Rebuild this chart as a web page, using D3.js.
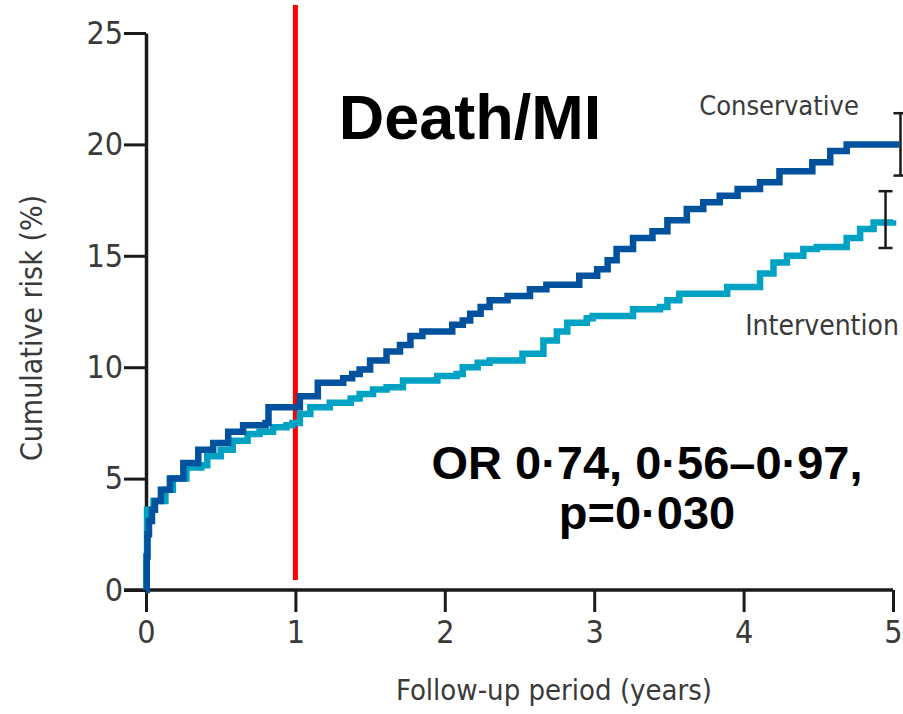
<!DOCTYPE html>
<html>
<head>
<meta charset="utf-8">
<script src="https://cdn.jsdelivr.net/npm/d3@7"></script>
<style>
  body { margin: 0; background: #fff; }
  .cond { font-family: "DejaVu Sans Condensed", "Liberation Sans Narrow", "Open Sans", sans-serif; }
</style>
</head>
<body>
<svg></svg>
<script>
const width = 903;
const height = 714;

// x ticks / y ticks
const xTicks = [0, 1, 2, 3, 4, 5];
const yTicks = [0, 5, 10, 15, 20, 25];

// Conservative arm: [years, cumulative risk %]
const conservative = [
    [0, 0], [0.005, 1.5], [0.01, 2.5], [0.02, 3.1], [0.04, 3.6], [0.06, 4.0],
    [0.1, 4.5], [0.16, 5.0], [0.25, 5.7], [0.35, 6.3], [0.45, 6.6], [0.55, 7.1],
    [0.65, 7.4], [0.8, 7.5], [0.82, 8.2], [1.03, 8.7], [1.15, 9.3], [1.32, 9.5],
    [1.38, 9.7], [1.43, 9.9], [1.5, 10.3], [1.61, 10.7], [1.7, 11.0], [1.77, 11.4],
    [1.85, 11.6], [2.05, 11.9], [2.12, 12.1], [2.17, 12.4], [2.24, 12.7], [2.3, 13.0],
    [2.42, 13.2], [2.57, 13.5], [2.68, 13.7], [2.9, 14.1], [3.02, 14.4], [3.09, 14.8],
    [3.15, 15.3], [3.26, 15.8], [3.39, 16.1], [3.49, 16.6], [3.62, 17.1], [3.73, 17.4],
    [3.84, 17.7], [3.96, 18.0], [4.11, 18.3], [4.24, 18.8], [4.46, 19.2], [4.58, 19.7],
    [4.69, 20.0], [5.04, 20.0]
];

// Intervention arm
const intervention = [
    [0, 0], [0.003, 1.5], [0.007, 3.6], [0.05, 4.0], [0.13, 4.5], [0.18, 5.0],
    [0.27, 5.5], [0.37, 5.6], [0.41, 6.0], [0.5, 6.3], [0.58, 6.7], [0.68, 7.0],
    [0.76, 7.1], [0.85, 7.3], [0.94, 7.4], [0.98, 7.5], [1.03, 7.9], [1.1, 8.2],
    [1.23, 8.4], [1.37, 8.6], [1.43, 8.8], [1.52, 9.0], [1.61, 9.1], [1.72, 9.4],
    [1.95, 9.6], [2.08, 9.7], [2.12, 10.0], [2.22, 10.2], [2.3, 10.3], [2.52, 10.6],
    [2.66, 11.2], [2.75, 11.6], [2.82, 12.0], [2.95, 12.2], [2.99, 12.3], [3.26, 12.6],
    [3.44, 12.7], [3.49, 13.0], [3.57, 13.3], [3.89, 13.6], [4.11, 14.2], [4.2, 14.7],
    [4.29, 15.0], [4.4, 15.3], [4.49, 15.4], [4.69, 15.8], [4.78, 16.2], [4.87, 16.5],
    [5.0, 16.6]
];

// Error bars at end of follow-up
const errorBars = [
    { name: "Conservative", x: 5.05, low: 18.6, high: 21.4 },
    { name: "Intervention", x: 4.95, low: 15.35, high: 17.9 }
];

const svg = d3.select("svg")
    .attr("width", width)
    .attr("height", height);

const x = d3.scaleLinear().domain([0, 5]).range([146, 893]);
const y = d3.scaleLinear().domain([0, 25]).range([590, 33]);

// Axes
const yAxis = svg.append("g")
    .attr("transform", `translate(${x(0)},0)`)
    .call(d3.axisLeft(y).tickValues(yTicks).tickFormat(d3.format("d"))
        .tickSize(22).tickPadding(1).tickSizeOuter(0));

const xAxis = svg.append("g")
    .attr("transform", `translate(0,${y(0)})`)
    .call(d3.axisBottom(x).tickValues(xTicks).tickFormat(d3.format("d"))
        .tickSize(22).tickPadding(8).tickSizeOuter(0));

[yAxis, xAxis].forEach(g => {
    g.select(".domain").style("stroke", "#1a1a1a").style("stroke-width", 3.5);
    g.selectAll(".tick line").style("stroke", "#1a1a1a").style("stroke-width", 3);
    g.selectAll(".tick text")
        .attr("class", "cond")
        .style("font-size", "32px")
        .style("fill", "#3a3a3a");
});
xAxis.select(".domain").attr("d", `M${x(0) - 22},0H${x(5)}`);

// Red marker at 1 year
svg.append("line")
    .attr("x1", x(1)).attr("x2", x(1))
    .attr("y1", 5).attr("y2", 580)
    .style("stroke", "#ff0000")
    .style("stroke-width", 5);

// Curves
const line = d3.line()
    .x(d => x(d[0]))
    .y(d => y(d[1]))
    .curve(d3.curveStepAfter);

svg.append("path")
    .datum(intervention)
    .attr("d", line)
    .style("fill", "none")
    .style("stroke", "#00a2c4")
    .style("stroke-width", 6.5);

svg.append("path")
    .datum(conservative)
    .attr("d", line)
    .style("fill", "none")
    .style("stroke", "#00529f")
    .style("stroke-width", 6.5);

// Error bars
const eb = svg.selectAll(".eb")
    .data(errorBars)
    .enter()
    .append("g")
    .attr("class", "eb")
    .style("stroke", "#1a1a1a")
    .style("stroke-width", 2.5);

eb.append("line")
    .attr("x1", d => x(d.x)).attr("x2", d => x(d.x))
    .attr("y1", d => y(d.high)).attr("y2", d => y(d.low));
eb.append("line")
    .attr("x1", d => x(d.x) - 7).attr("x2", d => x(d.x) + 7)
    .attr("y1", d => y(d.high)).attr("y2", d => y(d.high));
eb.append("line")
    .attr("x1", d => x(d.x) - 7).attr("x2", d => x(d.x) + 7)
    .attr("y1", d => y(d.low)).attr("y2", d => y(d.low));

// Series labels
svg.append("text")
    .attr("class", "cond")
    .attr("x", 779).attr("y", 115)
    .attr("text-anchor", "middle")
    .style("font-size", "27px")
    .style("fill", "#3a3a3a")
    .text("Conservative");

svg.append("text")
    .attr("class", "cond")
    .attr("x", 822).attr("y", 335)
    .attr("text-anchor", "middle")
    .style("font-size", "28px")
    .style("fill", "#3a3a3a")
    .text("Intervention");

// Axis titles
svg.append("text")
    .attr("class", "cond")
    .attr("x", 554).attr("y", 700)
    .attr("text-anchor", "middle")
    .style("font-size", "29px")
    .style("fill", "#3a3a3a")
    .text("Follow-up period (years)");

svg.append("text")
    .attr("class", "cond")
    .attr("transform", "translate(42,328) rotate(-90)")
    .attr("text-anchor", "middle")
    .style("font-size", "30px")
    .style("fill", "#3a3a3a")
    .text("Cumulative risk (%)");

// Annotations
svg.append("text")
    .attr("x", 470).attr("y", 139)
    .attr("text-anchor", "middle")
    .style("font-family", "Liberation Sans, Arial, sans-serif")
    .style("font-weight", "bold")
    .style("font-size", "63px")
    .style("fill", "#000")
    .text("Death/MI");

svg.append("text")
    .attr("x", 647).attr("y", 479)
    .attr("text-anchor", "middle")
    .style("font-family", "Liberation Sans, Arial, sans-serif")
    .style("font-weight", "bold")
    .style("font-size", "47px")
    .style("fill", "#000")
    .text("OR 0·74, 0·56–0·97,");

svg.append("text")
    .attr("x", 647).attr("y", 529)
    .attr("text-anchor", "middle")
    .style("font-family", "Liberation Sans, Arial, sans-serif")
    .style("font-weight", "bold")
    .style("font-size", "47px")
    .style("fill", "#000")
    .text("p=0·030");
</script>
</body>
</html>
